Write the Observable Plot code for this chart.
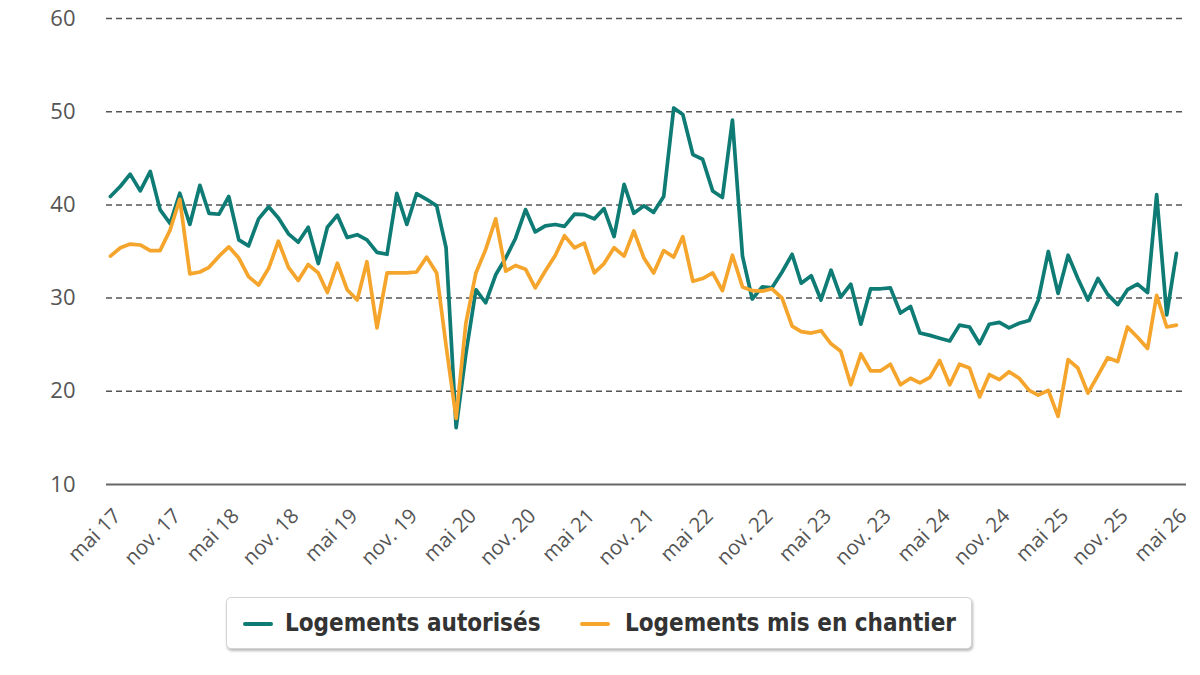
<!DOCTYPE html>
<html>
<head>
<meta charset="utf-8">
<script src="https://cdn.jsdelivr.net/npm/d3@7"></script>
<script src="https://cdn.jsdelivr.net/npm/@observablehq/plot@0.6"></script>
<style>
  body { margin: 0; background: #fff; }
  #wrap { position: relative; width: 1200px; height: 675px; overflow: hidden; }
  #chart { position: absolute; left: 0; top: 0; }
  .legend {
    position: absolute; left: 226px; top: 597px; width: 746px; height: 52px;
    box-sizing: border-box; border: 1px solid #d4d4d4; border-radius: 5px;
    box-shadow: 1px 2px 3px rgba(0,0,0,0.28); background: #fff;
    font-family: "DejaVu Sans", sans-serif;
    font-weight: bold; font-size: 24px; color: #333; white-space: nowrap;
  }
  .sw { position: absolute; top: 24px; width: 30px; height: 4px; border-radius: 2px; }
  .tx { position: absolute; top: 0; line-height: 50px; transform: scaleX(0.9); transform-origin: left center; }
</style>
</head>
<body>
<div id="wrap">
  <div id="chart"></div>
  <div class="legend" id="legend"></div>
</div>
<script>
// Series names and colours
const series = ["Logements autorisés", "Logements mis en chantier"];
const colors = ["#0e7b74", "#f5a52c"];

// Monthly period: mai 2017 -> mai 2026
const startMonth = "2017-05-01";
const endMonth = "2026-05-01";

// Logements autorisés
const autorises = [
  40.9, 42.0, 43.3, 41.5, 43.6, 39.5, 38.0, 41.25, 37.9, 42.1,
  39.1, 39.0, 40.9, 36.25, 35.6, 38.5, 39.8, 38.6, 36.9, 36.0,
  37.6, 33.7, 37.6, 38.9, 36.5, 36.8, 36.25, 34.9, 34.7, 41.25,
  37.9, 41.2, 40.6, 39.9, 35.4, 16.1, 24.0, 30.9, 29.5, 32.5,
  34.3, 36.4, 39.5, 37.1, 37.75, 37.9, 37.7, 39.0, 38.96, 38.5,
  39.6, 36.6, 42.2, 39.1, 39.9, 39.2, 40.9, 50.4, 49.7, 45.4,
  44.9, 41.5, 40.8, 49.1, 34.5, 29.9, 31.2, 31.1, 32.8, 34.7,
  31.6, 32.4, 29.8, 33.0, 30.1, 31.5, 27.2, 31.0, 31.0, 31.1,
  28.4, 29.1, 26.25, 26.0, 25.7, 25.4, 27.1, 26.9, 25.1, 27.2,
  27.4, 26.8, 27.3, 27.6, 29.8, 35.0, 30.5, 34.6, 32.1, 29.8,
  32.1, 30.4, 29.3, 30.9, 31.5, 30.6, 41.1, 28.2, 34.8
];

// Logements mis en chantier
const chantier = [
  34.5, 35.4, 35.8, 35.7, 35.1, 35.1, 37.3, 40.6, 32.6, 32.8,
  33.3, 34.5, 35.5, 34.3, 32.3, 31.4, 33.2, 36.1, 33.3, 31.9,
  33.6, 32.7, 30.6, 33.75, 30.9, 29.8, 33.9, 26.8, 32.7, 32.7,
  32.7, 32.8, 34.4, 32.7, 24.9, 17.1, 27.3, 32.7, 35.2, 38.5,
  32.9, 33.5, 33.1, 31.1, 32.9, 34.6, 36.7, 35.4, 35.9, 32.7,
  33.7, 35.4, 34.5, 37.2, 34.3, 32.7, 35.1, 34.4, 36.6, 31.8,
  32.1, 32.7, 30.8, 34.6, 31.2, 30.8, 30.75, 31.0, 30.0, 27.0,
  26.4, 26.25, 26.5, 25.1, 24.3, 20.7, 24.0, 22.2, 22.2, 22.9,
  20.7, 21.4, 20.9, 21.5, 23.3, 20.7, 22.9, 22.5, 19.4, 21.8,
  21.25, 22.1, 21.4, 20.1, 19.6, 20.1, 17.3, 23.4, 22.5, 19.8,
  21.7, 23.6, 23.2, 26.9, 25.8, 24.6, 30.3, 26.9, 27.1
];

// Y ticks
const yTicks = [10, 20, 30, 40, 50, 60];
const monthNames = ["janv.", "févr.", "mars", "avr.", "mai", "juin", "juil.", "août", "sept.", "oct.", "nov.", "déc."];

const start = new Date(startMonth + "T00:00:00Z");
const end = new Date(endMonth + "T00:00:00Z");
const months = d3.utcMonth.range(start, d3.utcMonth.offset(end, 1));

const data = [];
months.forEach((d, i) => {
  data.push({ date: d, value: autorises[i], serie: series[0] });
  data.push({ date: d, value: chantier[i], serie: series[1] });
});

const xTicks = months.filter(d => d.getUTCMonth() === 4 || d.getUTCMonth() === 10);
const fmt = d => monthNames[d.getUTCMonth()] + " " + String(d.getUTCFullYear()).slice(2);

const x0 = new Date(+start - 12 * 864e5);
const x1 = d3.utcMonth.offset(end, 1);

const chart = Plot.plot({
  width: 1200,
  height: 590,
  marginLeft: 106,
  marginRight: 14,
  marginTop: 18,
  marginBottom: 106,
  style: { fontFamily: "'Open Sans', sans-serif", fontSize: "20px", color: "#555", background: "transparent" },
  x: { type: "utc", domain: [x0, x1] },
  y: { domain: [10, 60] },
  color: { domain: series, range: colors },
  marks: [
    Plot.ruleY(yTicks.filter(v => v > 10), { stroke: "#555", strokeWidth: 1.5, strokeDasharray: "6,4" }),
    Plot.ruleY([10], { stroke: "#666", strokeWidth: 2.2 }),
    Plot.axisY({ ticks: yTicks, tickSize: 0, tickPadding: 31, fontSize: 22, fill: "#555", label: null }),
    Plot.axisX({ ticks: xTicks, tickFormat: fmt, tickRotate: -45, tickSize: 0, tickPadding: 28, dx: 7, fontSize: 20.5, fill: "#555", label: null }),
    Plot.lineY(data, { x: "date", y: "value", z: "serie", stroke: "serie", strokeWidth: 3.7, strokeLinejoin: "round", strokeLinecap: "round" })
  ]
});
document.getElementById("chart").appendChild(chart);

// Legend: swatch and text positions inside the box
const legend = document.getElementById("legend");
const swLeft = [16, 353];
const txLeft = [58, 398];
series.forEach((s, i) => {
  const sw = document.createElement("span");
  sw.className = "sw";
  sw.style.left = swLeft[i] + "px";
  sw.style.background = colors[i];
  const tx = document.createElement("span");
  tx.className = "tx";
  tx.style.left = txLeft[i] + "px";
  tx.textContent = s;
  legend.appendChild(sw);
  legend.appendChild(tx);
});
</script>
</body>
</html>
